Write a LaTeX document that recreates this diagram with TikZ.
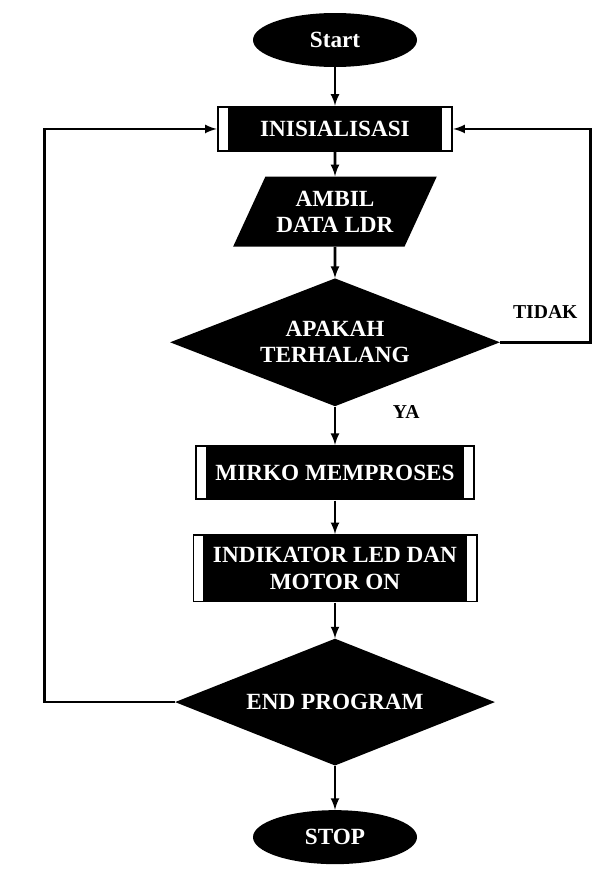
\documentclass[tikz,border=0pt]{standalone}
\usepackage{fontspec}
\setmainfont{Liberation Serif}
\usetikzlibrary{
    arrows,
    positioning,
    shapes.geometric,
}

\begin{document}
\begin{tikzpicture}[
    node distance = 1cm,
    flow/.style={draw, line width=1.8pt, -latex},
    term/.style={ellipse, fill=black, text=white, font=\fontsize{16.5}{18.5}\selectfont\bfseries, minimum width=4.1cm, minimum height=1.35cm},
    proc/.style={rectangle, fill=black, text=white, align=center, font=\fontsize{16.5}{18.5}\selectfont\bfseries,
        path picture={
            \fill[white, draw=black, line width=0.6pt] ([shift={(1pt,-1pt)}]path picture bounding box.north west) rectangle ([shift={(0.28cm,1pt)}]path picture bounding box.south west);
            \fill[white, draw=black, line width=0.6pt] ([shift={(-1pt,-1pt)}]path picture bounding box.north east) rectangle ([shift={(-0.28cm,1pt)}]path picture bounding box.south east);
        }},
    io/.style={trapezium, trapezium left angle=60, trapezium right angle=120, trapezium stretches=true, fill=black, text=white, align=center, font=\fontsize{16.5}{18.5}\selectfont\bfseries, minimum width=5.1cm, minimum height=1.75cm},
    decision/.style={diamond, aspect=2.6, fill=black, text=white, align=center, font=\fontsize{16.5}{18.5}\selectfont\bfseries, inner sep=0pt},
    answer/.style={font=\fontsize{14}{16}\selectfont\bfseries},
    ]

\useasboundingbox (0,0) rectangle (15.075,-21.85);

\node[term] at (8.375,-1.0) (start) {Start};

\node[proc, minimum width=5.9cm, minimum height=1.15cm] [below=0.96cm of start] (init)
    {INISIALISASI};

\node[io] [below=0.6cm of init] (ambil)
    {AMBIL\\DATA LDR};

\node[decision, minimum width=8.25cm, minimum height=3.2cm] [below=0.78cm of ambil] (halang)
    {APAKAH\\TERHALANG};

\node[proc, minimum width=7cm, minimum height=1.375cm] [below=0.96cm of halang] (mikro)
    {MIRKO MEMPROSES};

\node[proc, minimum width=7.125cm, minimum height=1.7cm] [below=0.84cm of mikro] (led)
    {INDIKATOR LED DAN\\MOTOR ON};

\node[decision, minimum width=8cm, minimum height=3.175cm] [below=0.89cm of led] (endprog)
    {END PROGRAM};

\node[term] [below=1.1cm of endprog] (stop) {STOP};

\draw[flow] (start) -- (init);
\draw[flow] (init) -- (ambil);
\draw[flow] (ambil) -- (halang);
\draw[flow] (halang) -- (mikro) node[pos=0.15, right=1.3cm, answer] {YA};
\draw[flow] (mikro) -- (led);
\draw[flow] (led) -- (endprog);
\draw[flow] (endprog) -- (stop);

% loop back when not blocked / not finished
\draw[flow] (halang.east) -- ++(2.25,0) node[midway, above=0.45cm, answer] {TIDAK}
    |- (init.east);
\draw[flow] (endprog.west) -- ++(-3.25,0) |- (init.west);

\end{tikzpicture}
\end{document}
